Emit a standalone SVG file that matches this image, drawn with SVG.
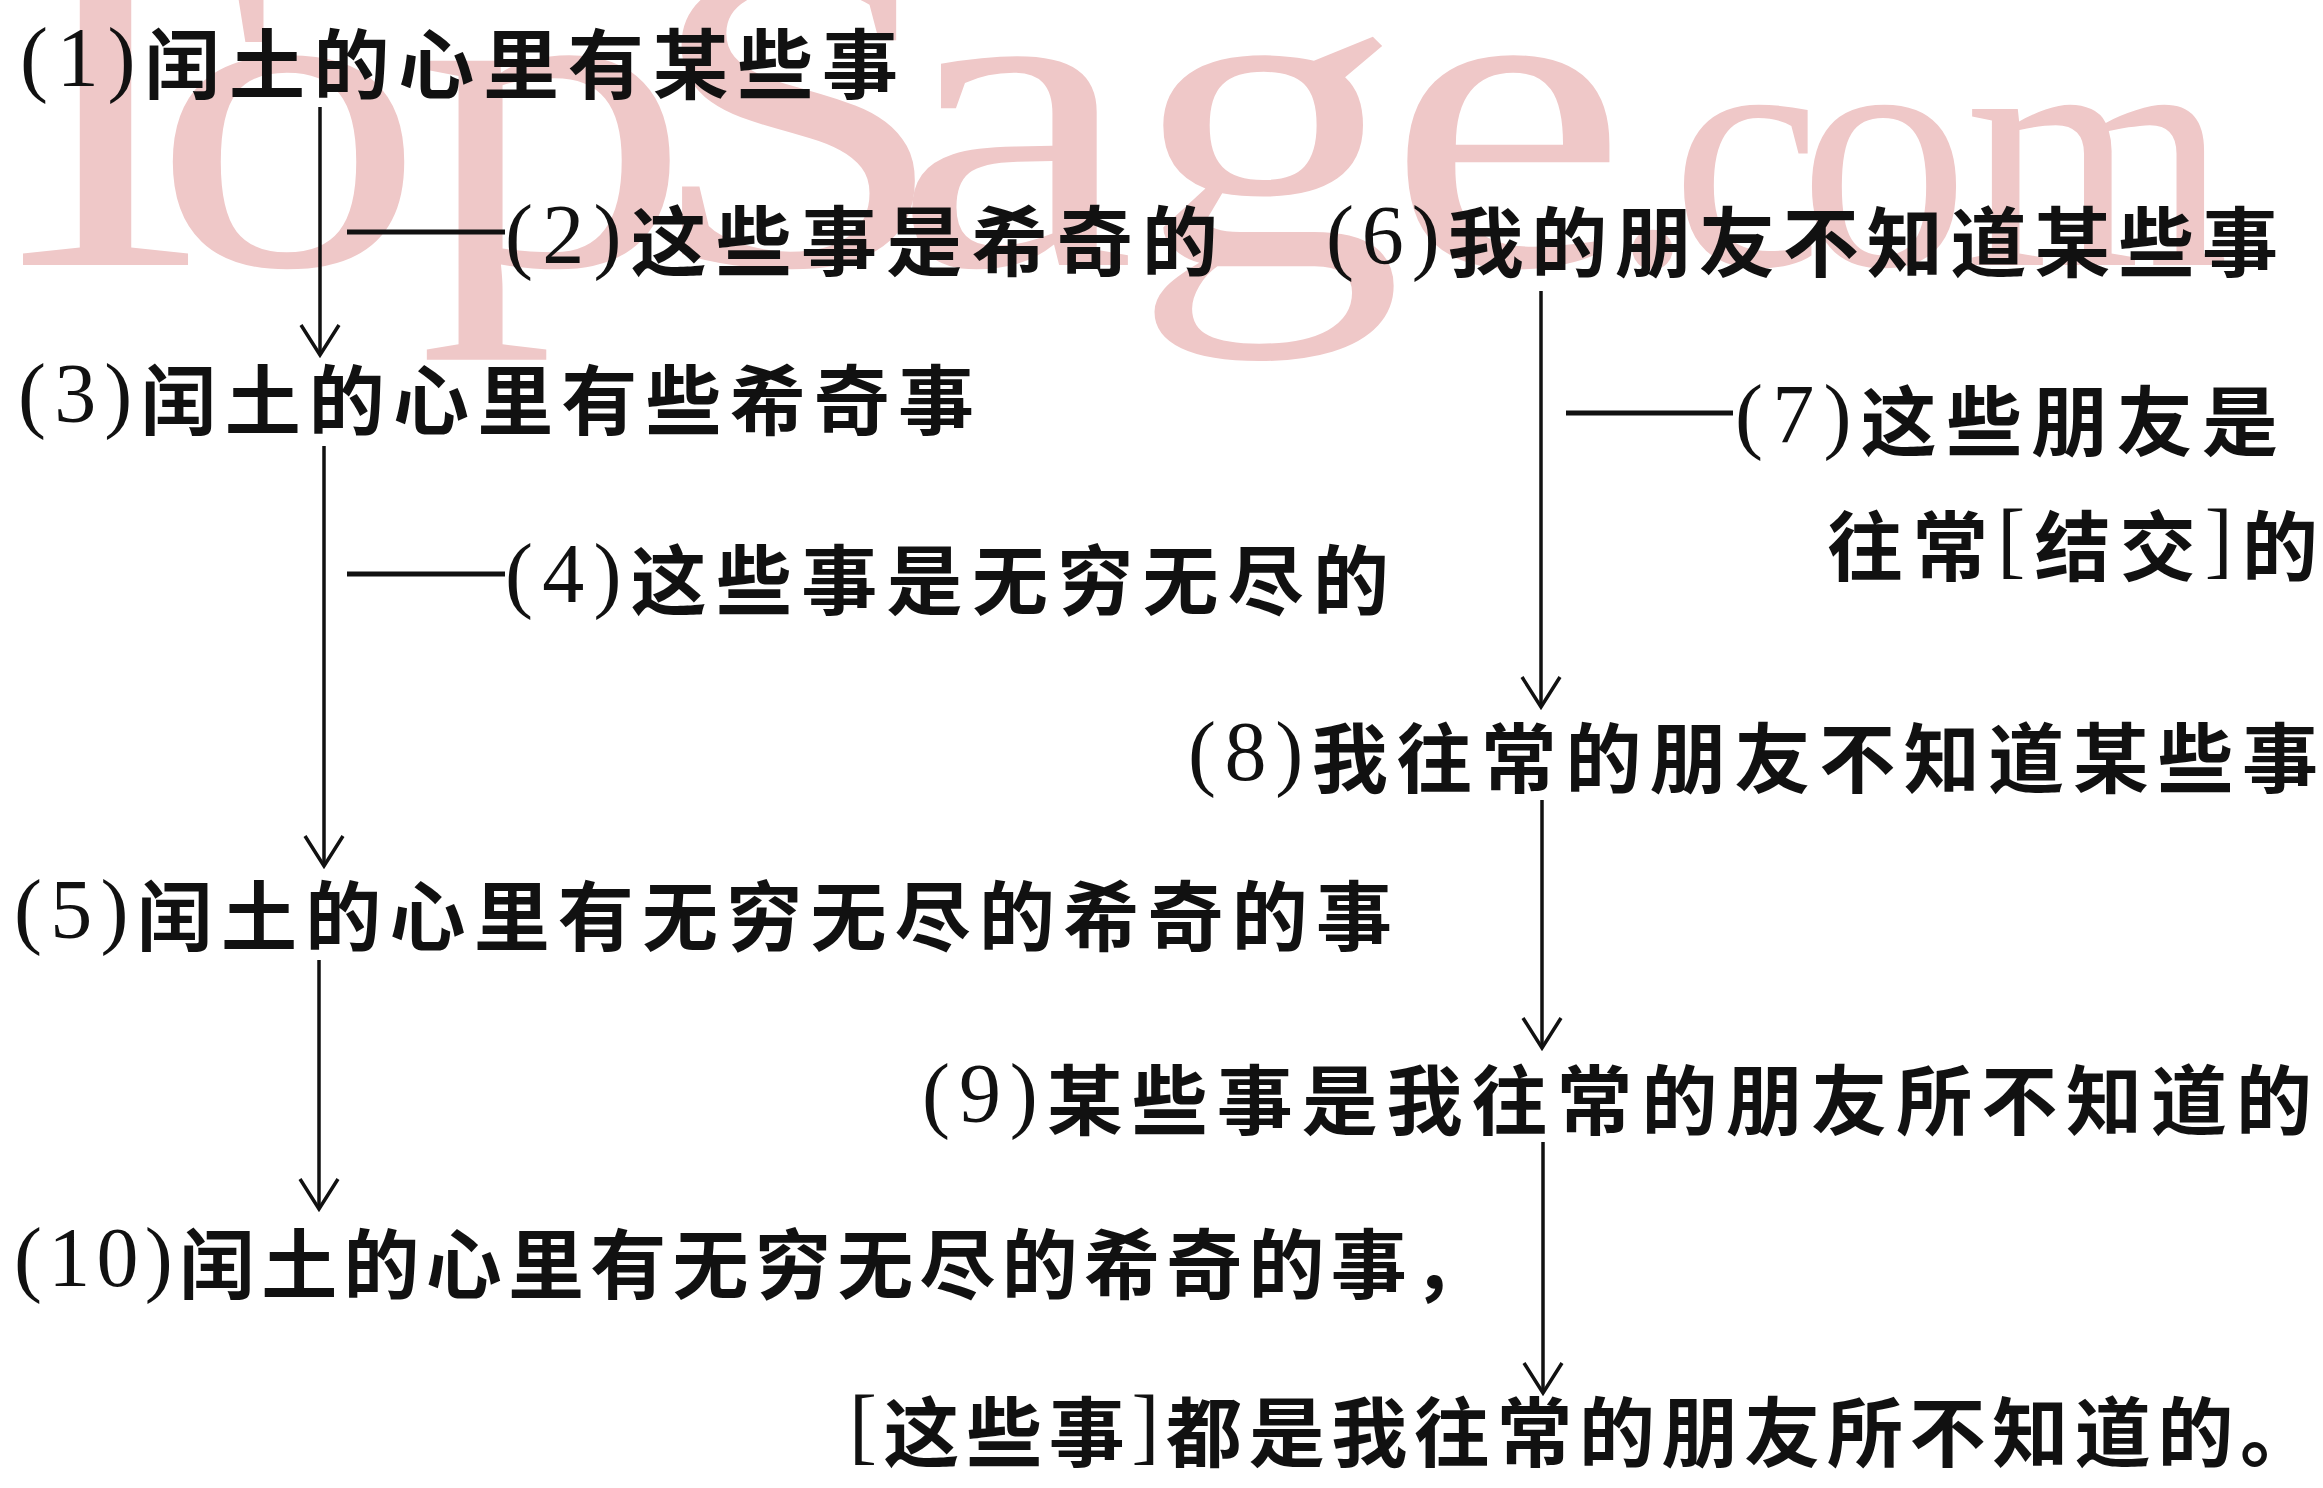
<svg xmlns="http://www.w3.org/2000/svg" width="2323" height="1488" viewBox="0 0 2323 1488">
<style>
.t{font-family:"Noto Sans CJK SC","Noto Sans CJK TC",sans-serif;font-size:76px;font-weight:700;fill:#111}
.p{font-family:"Liberation Serif","Noto Sans CJK SC",serif;font-size:84px;font-weight:400}
.wm{font-family:"Liberation Serif",serif;fill:#efc8c8}
.ln{stroke:#111;stroke-width:3.5;fill:none}
.dash{stroke:#111;stroke-width:5}
</style>
<defs>
<marker id="arr" markerUnits="userSpaceOnUse" viewBox="-34 -22 38 44" refX="0" refY="0" markerWidth="38" markerHeight="44" orient="auto">
<path d="M-30,-19 L0,0 L-30,19" fill="none" stroke="#111" stroke-width="3.5"/>
</marker>
</defs>
<rect width="2323" height="1488" fill="#fff"/>
<g id="watermark">
<text class="wm" transform="scale(1.227,1)" font-size="445" x="-49.7 123.9 340.7 525.7 727.8 921.8 1129.6" y="265">TopSage</text>
<text class="wm" font-size="340" x="1610 1671 1799 1965" y="265">.com</text>
</g>
<g id="connectors">
<line class="ln" x1="320" y1="107" x2="320" y2="355" marker-end="url(#arr)"/>
<line class="ln" x1="324" y1="446" x2="324" y2="866" marker-end="url(#arr)"/>
<line class="ln" x1="319" y1="960" x2="319" y2="1209" marker-end="url(#arr)"/>
<line class="ln" x1="1541" y1="291" x2="1541" y2="707" marker-end="url(#arr)"/>
<line class="ln" x1="1542" y1="800" x2="1542" y2="1048" marker-end="url(#arr)"/>
<line class="ln" x1="1543" y1="1142" x2="1543" y2="1393" marker-end="url(#arr)"/>
<line class="dash" x1="347" y1="232" x2="505" y2="232"/>
<line class="dash" x1="347" y1="574" x2="505" y2="574"/>
<line class="dash" x1="1566" y1="413" x2="1733" y2="413"/>
</g>
<g id="n1"><text class="t" x="20" y="93" textLength="878" lengthAdjust="spacing"><tspan class="p" dy="-7">(1)</tspan><tspan dy="7">闰土的心里有某些事</tspan></text></g>
<g id="n2"><text class="t" x="505" y="270" textLength="713" lengthAdjust="spacing"><tspan class="p" dy="-7">(2)</tspan><tspan dy="7">这些事是希奇的</tspan></text></g>
<g id="n3"><text class="t" x="18" y="429" textLength="956" lengthAdjust="spacing"><tspan class="p" dy="-7">(3)</tspan><tspan dy="7">闰土的心里有些希奇事</tspan></text></g>
<g id="n4"><text class="t" x="505" y="609" textLength="884" lengthAdjust="spacing"><tspan class="p" dy="-7">(4)</tspan><tspan dy="7">这些事是无穷无尽的</tspan></text></g>
<g id="n5"><text class="t" x="14" y="945" textLength="1378" lengthAdjust="spacing"><tspan class="p" dy="-7">(5)</tspan><tspan dy="7">闰土的心里有无穷无尽的希奇的事</tspan></text></g>
<g id="n6"><text class="t" x="1326" y="271" textLength="952" lengthAdjust="spacing"><tspan class="p" dy="-7">(6)</tspan><tspan dy="7">我的朋友不知道某些事</tspan></text></g>
<g id="n7">
<text class="t" x="1735" y="450" textLength="543" lengthAdjust="spacing"><tspan class="p" dy="-7">(7)</tspan><tspan dy="7">这些朋友是</tspan></text>
<text class="t" x="1827" y="575" textLength="491" lengthAdjust="spacing">往常<tspan class="p" dy="-7">[</tspan><tspan dy="7">结交</tspan><tspan class="p" dy="-7">]</tspan><tspan dy="7">的</tspan></text>
</g>
<g id="n8"><text class="t" x="1188" y="787" textLength="1130" lengthAdjust="spacing"><tspan class="p" dy="-7">(8)</tspan><tspan dy="7">我往常的朋友不知道某些事</tspan></text></g>
<g id="n9"><text class="t" x="922" y="1129" textLength="1390" lengthAdjust="spacing"><tspan class="p" dy="-7">(9)</tspan><tspan dy="7">某些事是我往常的朋友所不知道的</tspan></text></g>
<g id="n10">
<text class="t" x="14" y="1293" textLength="1475" lengthAdjust="spacing"><tspan class="p" dy="-7">(10)</tspan><tspan dy="7">闰土的心里有无穷无尽的希奇的事，</tspan></text>
<text class="t" x="849" y="1461" textLength="1467" lengthAdjust="spacing"><tspan class="p" dy="-7">[</tspan><tspan dy="7">这些事</tspan><tspan class="p" dy="-7">]</tspan><tspan dy="7">都是我往常的朋友所不知道的。</tspan></text>
</g>
</svg>
